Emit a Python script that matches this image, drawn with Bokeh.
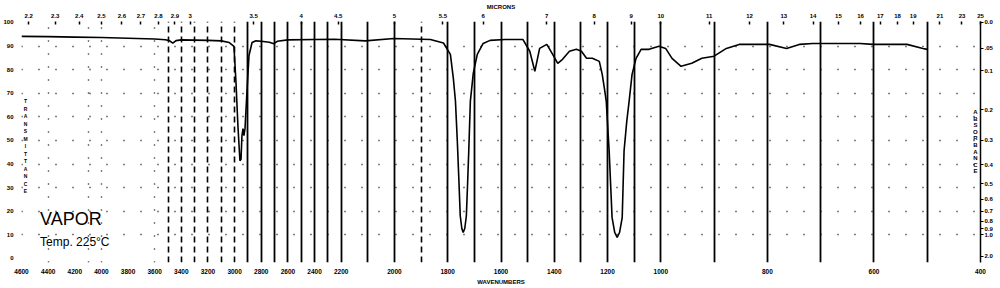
import numpy as np
from bokeh.plotting import figure
from bokeh.models import (Range1d, LinearAxis, FixedTicker, Grid, Label,
                          CustomJSTickFormatter)
from bokeh.embed import file_html
from bokeh.resources import INLINE

# ---------------- data ----------------
wavenumber = [4600, 4400, 4200, 4000, 3800, 3600, 3520, 3490, 3464, 3440, 3400,
              3200, 3100, 3040, 3005, 2990, 2975, 2960, 2952, 2945, 2937, 2930,
              2922, 2907, 2892, 2869, 2840, 2800, 2740, 2705, 2680, 2600, 2400,
              2250, 2110, 2002, 1865, 1816, 1790, 1779, 1771, 1764, 1758, 1753,
              1747, 1742, 1736, 1730, 1725, 1721, 1715, 1704, 1689, 1667, 1641,
              1585, 1518, 1492, 1473, 1455, 1428, 1406, 1387, 1369, 1343, 1317,
              1298, 1279, 1257, 1231, 1220, 1212, 1205, 1194, 1183, 1173, 1164,
              1155, 1145, 1138, 1128, 1119, 1108, 1093, 1074, 1044, 1007, 991,
              979, 962, 942, 923, 900, 877, 853, 796, 764, 740, 715, 626, 602,
              564, 538, 508, 500]
transmittance = [94.1, 94.0, 93.8, 93.6, 93.3, 93.0, 92.7, 92.3, 91.2, 92.3, 92.6,
                 92.4, 92.2, 91.5, 89.9, 75.0, 56.0, 41.4, 42.0, 52.0, 55.0, 52.0,
                 55.0, 71.0, 86.0, 91.5, 92.2, 92.0, 91.6, 91.0, 92.0, 92.6, 92.8,
                 92.9, 92.2, 93.2, 92.8, 91.3, 86.5, 76.4, 66.7, 49.8, 32.9, 18.1,
                 12.7, 11.0, 12.7, 18.1, 32.9, 45.6, 66.7, 78.5, 86.5, 91.1, 92.4,
                 92.8, 92.8, 87.8, 79.3, 89.0, 90.7, 86.5, 82.7, 84.4, 87.8, 88.6,
                 87.8, 84.8, 84.8, 83.5, 78.0, 72.2, 66.7, 45.6, 17.3, 11.0, 8.9,
                 11.0, 17.3, 45.6, 58.0, 66.7, 78.0, 84.8, 88.6, 88.6, 89.9, 89.0,
                 84.8, 81.4, 82.7, 84.8, 85.7, 89.0, 90.7, 90.7, 89.0, 90.7, 91.1,
                 91.1, 90.7, 90.7, 90.7, 89.0, 88.6]

wn_ticks = [4600, 4400, 4200, 4000, 3800, 3600, 3400, 3200, 3000, 2800, 2600,
            2400, 2200, 2000, 1800, 1600, 1400, 1200, 1000, 800, 600, 400]
wn_labels = [str(w) for w in wn_ticks]
micron_ticks = [2.2, 2.3, 2.4, 2.5, 2.6, 2.7, 2.8, 2.9, 3, 3.5, 4, 4.5, 5, 5.5,
                6, 7, 8, 9, 10, 11, 12, 13, 14, 15, 16, 17, 18, 19, 21, 23, 25]
micron_labels = ["2.2", "2.3", "2.4", "2.5", "2.6", "2.7", "2.8", "2.9", "3",
                 "3.5", "4", "4.5", "5", "5.5", "6", "7", "8", "9", "10", "11",
                 "12", "13", "14", "15", "16", "17", "18", "19", "21", "23", "25"]
t_ticks = [0, 10, 20, 30, 40, 50, 60, 70, 80, 90, 100]
t_labels = [str(t) for t in t_ticks]
abs_ticks = [0.0, 0.05, 0.1, 0.2, 0.3, 0.4, 0.5, 0.6, 0.7, 0.8, 0.9, 1.0, 2.0]
abs_labels = ["0.0", ".05", "0.1", "0.2", "0.3", "0.4", "0.5", "0.6", "0.7",
              "0.8", "0.9", "1.0", "2.0"]

# grid line wavenumbers
grid_solid = [2900, 2800, 2700, 2600, 2500, 2400, 2300, 2200, 2100, 2000, 1800,
              1700, 1600, 1500, 1400, 1300, 1200, 1100, 1000, 900, 800, 700,
              600, 500, 400]
grid_dashed = [3500, 3400, 3300, 3200, 3100, 3000, 1900]
grid_dotted = [4400, 4100, 4000, 3600]

# chart abscissa: three equal-width panels 4600-2200, 2200-1000, 1000-400
BREAK_WN = [400, 1000, 2200, 4600]
BREAK_U = [3.0, 2.0, 1.0, 0.0]


def chart_x(w):
    return np.interp(np.asarray(w, dtype=float), BREAK_WN, BREAK_U)


FONT = "Liberation Sans"

p = figure(width=1000, height=288, output_backend="svg", toolbar_location=None,
           x_range=Range1d(0, 3), y_range=Range1d(-1.7, 100.4),
           x_axis_location=None, y_axis_location=None,
           min_border_left=21, min_border_right=20, min_border_top=20,
           min_border_bottom=26, outline_line_color=None,
           background_fill_color="white", border_fill_color="white")
p.center = [r for r in p.center if not isinstance(r, Grid)]


def nearest_formatter(vals, labels):
    return CustomJSTickFormatter(args=dict(tvals=list(vals), tlabels=labels), code="""
        let best = 0, bd = 1e99;
        for (let i = 0; i < tvals.length; i++) {
            const d = Math.abs(tvals[i] - tick);
            if (d < bd) { bd = d; best = i; }
        }
        return tlabels[best];
    """)


def style_axis(ax, size="6px"):
    ax.major_label_text_font = FONT
    ax.major_label_text_font_size = size
    ax.major_label_text_font_style = "bold"
    ax.major_label_text_color = "black"
    ax.axis_label_text_font = FONT
    ax.axis_label_text_font_size = "6px"
    ax.axis_label_text_font_style = "bold"
    ax.axis_label_text_color = "black"
    ax.minor_tick_line_color = None
    ax.major_label_standoff = 2
    ax.axis_label_standoff = 2


# bottom wavenumber axis
wn_u = [float(v) for v in chart_x(wn_ticks)]
bottom = LinearAxis(ticker=FixedTicker(ticks=wn_u),
                    formatter=nearest_formatter(wn_u, wn_labels),
                    axis_label="WAVENUMBERS")
style_axis(bottom, "6.5px")
bottom.axis_line_color = None
bottom.major_tick_line_color = None
bottom.major_label_standoff = 0
bottom.axis_label_standoff = 2
p.add_layout(bottom, "below")

# top micron axis
mic_u = [float(v) for v in chart_x([10000.0 / m for m in micron_ticks])]
top = LinearAxis(ticker=FixedTicker(ticks=mic_u),
                 formatter=nearest_formatter(mic_u, micron_labels),
                 axis_label="MICRONS")
style_axis(top)
top.axis_line_color = None
top.major_tick_in = 3
top.major_tick_out = 0
top.major_tick_line_width = 1.5
top.major_label_standoff = 4
top.axis_label_standoff = 1
p.add_layout(top, "above")

# left transmittance axis
left = LinearAxis(ticker=FixedTicker(ticks=t_ticks),
                  formatter=nearest_formatter(t_ticks, t_labels))
style_axis(left)
left.axis_line_color = None
left.major_tick_line_color = None
p.add_layout(left, "left")

# right absorbance axis
abs_t = [float(100 * 10 ** (-a)) for a in abs_ticks]
right = LinearAxis(ticker=FixedTicker(ticks=abs_t),
                   formatter=nearest_formatter(abs_t, abs_labels))
style_axis(right)
right.axis_line_color = "black"
right.axis_line_width = 1.5
right.major_tick_out = 3
right.major_tick_in = 0
right.major_tick_line_width = 1.2
right.major_label_standoff = 1
p.add_layout(right, "right")

# grids
g_solid = Grid(dimension=0, ticker=FixedTicker(ticks=[float(v) for v in chart_x(grid_solid)]),
               grid_line_color="black", grid_line_width=1.8)
g_dash = Grid(dimension=0, ticker=FixedTicker(ticks=[float(v) for v in chart_x(grid_dashed)]),
              grid_line_color="black", grid_line_width=1.6, grid_line_dash="6 4")
g_dot = Grid(dimension=0, ticker=FixedTicker(ticks=[float(v) for v in chart_x(grid_dotted)]),
             grid_line_color="black", grid_line_width=1.4, grid_line_dash="1 12")
g_h = Grid(dimension=1, ticker=FixedTicker(ticks=[10, 20, 30, 40, 50, 60, 70, 80, 90]),
           grid_line_color="black", grid_line_width=1.4, grid_line_dash="1 16")
for g in (g_h, g_dot, g_dash, g_solid):
    p.center.append(g)

# spectrum
p.line(chart_x(wavenumber), transmittance, line_color="black", line_width=1.6)

# annotations
p.add_layout(Label(x=0.058, y=16.9, text="VAPOR", text_font=FONT,
                   text_font_size="18px", text_baseline="middle",
                   text_color="black"))
p.add_layout(Label(x=0.058, y=6.8, text="Temp. 225\u00b0C", text_font=FONT,
                   text_font_size="12px", text_baseline="middle",
                   text_color="black"))
p.add_layout(Label(x=0.0125, y=67.9, text="\n".join("TRANSMITTANCE"),
                   text_font=FONT, text_font_size="5px", text_font_style="bold",
                   text_baseline="top", text_align="center", text_color="black",
                   text_line_height=1.25))
p.add_layout(Label(x=2.984, y=63.3, text="\n".join("ABSORBANCE"),
                   text_font=FONT, text_font_size="6px", text_font_style="bold",
                   text_baseline="top", text_align="center", text_color="black",
                   text_line_height=1.1))

open("out.html", "w").write(file_html(p, INLINE))
